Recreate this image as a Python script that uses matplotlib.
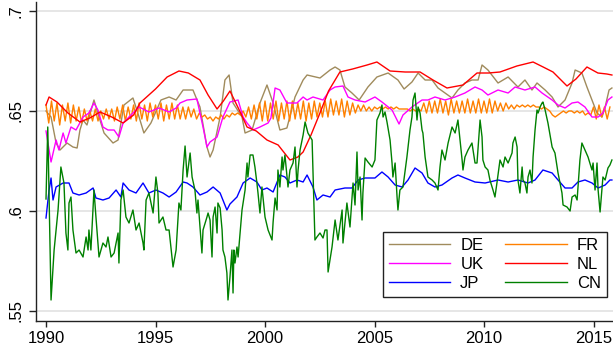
import matplotlib
matplotlib.use("Agg")
import matplotlib.pyplot as plt
import numpy as np

plt.rcParams['font.family'] = ['Liberation Sans', 'DejaVu Sans']

# ---------------- data (fractional years, values) ----------------
de_t = [1990.00, 1990.23, 1990.46, 1990.64, 1990.96, 1991.23, 1991.42, 1991.55, 1991.69, 1991.87,
        1992.19, 1992.42, 1992.65, 1993.06, 1993.29, 1993.56, 1993.97, 1994.25, 1994.47, 1994.79,
        1995.25, 1995.62, 1995.94, 1996.26, 1996.71, 1997.03, 1997.35, 1997.49, 1997.63, 1997.95,
        1998.17, 1998.36, 1998.54, 1998.95, 1999.09, 1999.41, 1999.77, 2000.09, 2000.37, 2000.68,
        2001.00, 2001.37, 2001.74, 2001.92, 2002.51, 2002.97, 2003.20, 2003.42, 2003.65, 2003.97,
        2004.30, 2004.70, 2005.11, 2005.62, 2006.07, 2006.35, 2006.71, 2006.99, 2007.31, 2007.63,
        2007.90, 2008.22, 2008.54, 2008.81, 2009.13, 2009.45, 2009.73, 2009.91, 2010.18, 2010.64,
        2011.10, 2011.55, 2011.87, 2012.19, 2012.42, 2012.79, 2013.11, 2013.38, 2013.70, 2014.02,
        2014.16, 2014.47, 2014.70, 2014.93, 2015.16, 2015.39, 2015.53, 2015.71, 2015.84]
de_v = [.650, .647, .634, .6305, .634, .632, .6315, .6405, .6455, .643,
        .6555, .647, .639, .634, .6355, .653, .6565, .647, .639, .644,
        .6555, .657, .6555, .6605, .6605, .652, .632, .627, .6305, .647,
        .6655, .668, .654, .647, .639, .6405, .654, .663, .654, .6405,
        .6415, .657, .6655, .668, .6665, .6705, .672, .6705, .662, .659,
        .6555, .662, .667, .669, .6655, .661, .6645, .669, .6655, .6655,
        .6615, .659, .6565, .6605, .664, .6655, .6655, .673, .6705, .664,
        .667, .662, .6655, .6605, .664, .6605, .657, .652, .6555, .664,
        .6705, .669, .662, .6555, .649, .647, .652, .6605, .6615]

fr_start = 1990.0
fr_v = [.653, .644, .655, .645, .654, .643, .653, .645,
        .654, .644, .653, .645, .652, .644, .651, .645,
        .650, .645, .651, .645, .650, .646, .651, .646,
        .651, .645, .652, .646, .653, .645, .652, .646,
        .653, .645, .654, .646, .653, .645, .654, .647,
        .653, .646, .654, .645, .653, .646, .654, .646,
        .653, .646, .652, .646, .652, .647, .651, .646,
        .649, .647, .648, .646, .647, .645, .647, .646,
        .648, .646, .648, .647, .649, .648, .649, .648,
        .650, .647, .652, .646, .653, .646, .654, .645,
        .655, .645, .654, .646, .655, .645, .654, .646,
        .655, .645, .655, .646, .654, .646, .655, .645,
        .654, .646, .655, .647, .654, .647, .655, .647,
        .656, .648, .655, .648, .656, .647, .655, .648,
        .654, .649, .653, .650, .653, .650, .652, .650,
        .652, .651, .652, .651, .652, .651, .652, .651,
        .652, .651, .651, .651, .651, .650, .651, .650,
        .651, .650, .654, .649, .655, .649, .655, .649,
        .656, .649, .655, .648, .656, .649, .655, .649,
        .655, .649, .656, .649, .655, .649, .656, .649,
        .655, .649, .656, .649, .655, .650, .654, .650,
        .654, .651, .653, .651, .653, .652, .653, .652,
        .653, .652, .653, .652, .652, .651, .652, .651,
        .650, .648, .647, .648, .649, .650, .649, .650,
        .650, .649, .650, .649, .650, .648, .649, .648,
        .652, .646, .653, .647, .652, .646, .652]
fr_t = fr_start + np.arange(len(fr_v)) / 8.0

uk_t = [1990.00, 1990.23, 1990.46, 1990.59, 1990.78, 1990.91, 1991.14, 1991.37, 1991.69, 1991.96,
        1992.19, 1992.37, 1992.60, 1992.83, 1993.11, 1993.33, 1993.52, 1993.97, 1994.25, 1994.70,
        1995.16, 1995.62, 1995.94, 1996.12, 1996.44, 1996.89, 1997.17, 1997.35, 1997.49, 1997.81,
        1998.08, 1998.40, 1998.77, 1999.00, 1999.18, 1999.45, 1999.77, 2000.14, 2000.27, 2000.46,
        2000.68, 2001.00, 2001.46, 2001.74, 2001.92, 2002.19, 2002.65, 2002.97, 2003.20, 2003.56,
        2003.79, 2004.11, 2004.57, 2005.02, 2005.34, 2005.80, 2006.12, 2006.30, 2006.71, 2007.17,
        2007.44, 2007.76, 2008.22, 2008.68, 2009.13, 2009.59, 2009.91, 2010.18, 2010.64, 2011.10,
        2011.42, 2011.87, 2012.33, 2012.65, 2013.11, 2013.38, 2013.70, 2014.02, 2014.29, 2014.61,
        2014.93, 2015.21, 2015.43, 2015.66, 2015.84]
uk_v = [.640, .6245, .6355, .6305, .639, .634, .642, .6405, .647, .649,
        .654, .6505, .642, .6405, .6405, .637, .644, .649, .652, .6495,
        .6515, .6495, .6515, .654, .6555, .656, .642, .632, .6345, .637,
        .647, .6545, .6555, .647, .644, .6405, .642, .644, .6465, .6615,
        .6605, .654, .654, .657, .6555, .657, .6555, .6605, .662, .6625,
        .657, .6555, .6545, .657, .6545, .6505, .6435, .648, .652, .6555,
        .6555, .657, .6555, .657, .659, .662, .6605, .658, .6605, .659,
        .662, .6605, .662, .659, .6555, .653, .6515, .654, .6545, .652,
        .647, .647, .649, .6555, .657]

nl_t = [1990.00, 1990.14, 1990.50, 1991.00, 1991.55, 1992.00, 1992.47, 1993.00, 1993.52, 1994.00,
        1994.29, 1995.00, 1995.53, 1996.07, 1996.50, 1997.03, 1997.40, 1997.81, 1998.10, 1998.40,
        1998.80, 1999.18, 1999.60, 2000.09, 2000.60, 2001.14, 2001.50, 2001.74, 2002.10, 2002.51,
        2002.90, 2003.42, 2004.00, 2004.66, 2005.11, 2005.71, 2006.40, 2007.08, 2007.67, 2008.31,
        2009.04, 2009.68, 2010.20, 2010.73, 2011.50, 2012.24, 2012.70, 2013.15, 2013.79, 2014.20,
        2014.70, 2015.20, 2015.61, 2015.84]
nl_v = [.653, .657, .6545, .649, .6445, .6465, .6495, .647, .644, .648,
        .654, .661, .667, .670, .669, .6655, .658, .651, .655, .660,
        .651, .642, .640, .6355, .633, .6255, .627, .6295, .638, .649,
        .660, .6695, .671, .673, .6745, .670, .6695, .6695, .6655, .6615,
        .663, .669, .669, .6695, .6725, .6745, .672, .6695, .6625, .666,
        .672, .669, .6685, .668]

jp_t = [1990.00, 1990.14, 1990.23, 1990.32, 1990.46, 1990.78, 1991.05, 1991.23, 1991.51, 1991.83,
        1992.15, 1992.28, 1992.60, 1992.88, 1993.20, 1993.42, 1993.52, 1993.79, 1994.11, 1994.43,
        1994.70, 1995.02, 1995.34, 1995.62, 1995.94, 1996.26, 1996.44, 1996.71, 1997.03, 1997.35,
        1997.63, 1997.95, 1998.26, 1998.40, 1998.72, 1999.00, 1999.32, 1999.63, 1999.86, 2000.09,
        2000.37, 2000.68, 2000.91, 2001.14, 2001.46, 2001.74, 2001.92, 2002.19, 2002.37, 2002.65,
        2002.97, 2003.20, 2003.65, 2003.97, 2004.25, 2004.57, 2005.02, 2005.34, 2005.62, 2005.94,
        2006.26, 2006.53, 2006.85, 2007.17, 2007.44, 2007.76, 2008.08, 2008.54, 2008.81, 2009.13,
        2009.59, 2010.05, 2010.64, 2011.10, 2011.55, 2012.01, 2012.33, 2012.69, 2013.11, 2013.38,
        2013.70, 2014.02, 2014.29, 2014.61, 2014.93, 2015.21, 2015.53, 2015.75, 2015.84]
jp_v = [.5965, .6105, .6165, .6055, .612, .614, .614, .609, .608, .609,
        .6115, .6065, .6055, .6065, .6105, .607, .614, .6105, .609, .614,
        .609, .6105, .609, .607, .6095, .6145, .614, .612, .608, .6095,
        .612, .609, .6005, .6035, .607, .614, .6165, .6145, .6105, .6115,
        .6095, .618, .617, .614, .6155, .6145, .618, .612, .6055, .608,
        .607, .6105, .6115, .6115, .6155, .6165, .6165, .6195, .617, .613,
        .612, .6155, .6215, .619, .614, .612, .613, .6165, .618, .6165,
        .6145, .614, .6155, .6145, .6155, .614, .6155, .6205, .619, .6155,
        .6115, .6115, .6145, .6155, .614, .6115, .613, .6155, .6155]

cn_t = [1990.00, 1990.08, 1990.23, 1990.37, 1990.55, 1990.68, 1990.82, 1990.91, 1991.00, 1991.05,
        1991.14, 1991.23, 1991.37, 1991.51, 1991.69, 1991.83, 1991.92, 1991.96, 1992.05, 1992.19,
        1992.28, 1992.42, 1992.60, 1992.74, 1992.83, 1992.97, 1993.11, 1993.29, 1993.33, 1993.42,
        1993.52, 1993.65, 1993.79, 1993.97, 1994.11, 1994.25, 1994.43, 1994.47, 1994.57, 1994.70,
        1994.89, 1995.02, 1995.11, 1995.16, 1995.34, 1995.48, 1995.62, 1995.80, 1995.94, 1996.03,
        1996.07, 1996.16, 1996.26, 1996.35, 1996.44, 1996.58, 1996.67, 1996.80, 1996.89, 1996.94,
        1997.03, 1997.12, 1997.17, 1997.35, 1997.40, 1997.49, 1997.58, 1997.63, 1997.72, 1997.81,
        1997.85, 1997.95, 1998.04, 1998.08, 1998.17, 1998.26, 1998.31, 1998.40, 1998.49, 1998.54,
        1998.58, 1998.63, 1998.72, 1998.77, 1998.86, 1998.95, 1999.09, 1999.18, 1999.22, 1999.32,
        1999.45, 1999.54, 1999.63, 1999.68, 1999.77, 1999.86, 2000.00, 2000.14, 2000.32, 2000.37,
        2000.46, 2000.55, 2000.59, 2000.68, 2000.78, 2000.82, 2000.91, 2001.05, 2001.14, 2001.28,
        2001.37, 2001.46, 2001.51, 2001.60, 2001.74, 2001.83, 2001.96, 2002.15, 2002.19, 2002.28,
        2002.37, 2002.51, 2002.65, 2002.74, 2002.83, 2002.88, 2003.06, 2003.20, 2003.33, 2003.52,
        2003.56, 2003.74, 2003.88, 2004.02, 2004.11, 2004.20, 2004.25, 2004.34, 2004.43, 2004.47,
        2004.57, 2004.70, 2004.89, 2005.02, 2005.11, 2005.25, 2005.34, 2005.39, 2005.48, 2005.57,
        2005.71, 2005.80, 2005.84, 2005.94, 2006.03, 2006.07, 2006.16, 2006.30, 2006.48, 2006.62,
        2006.71, 2006.76, 2006.85, 2006.94, 2006.99, 2007.08, 2007.17, 2007.21, 2007.31, 2007.44,
        2007.63, 2007.76, 2007.90, 2007.99, 2008.08, 2008.22, 2008.36, 2008.54, 2008.68, 2008.81,
        2009.00, 2009.04, 2009.13, 2009.27, 2009.45, 2009.59, 2009.68, 2009.82, 2009.91, 2009.95,
        2010.05, 2010.18, 2010.27, 2010.41, 2010.50, 2010.59, 2010.73, 2010.87, 2010.96, 2011.10,
        2011.28, 2011.32, 2011.42, 2011.51, 2011.55, 2011.64, 2011.74, 2011.78, 2011.87, 2011.96,
        2012.01, 2012.10, 2012.19, 2012.24, 2012.33, 2012.42, 2012.47, 2012.56, 2012.65, 2012.69,
        2012.79, 2012.92, 2013.11, 2013.24, 2013.38, 2013.56, 2013.61, 2013.79, 2013.93, 2014.02,
        2014.16, 2014.25, 2014.38, 2014.47, 2014.61, 2014.75, 2014.93, 2014.98, 2015.07, 2015.16,
        2015.21, 2015.30, 2015.39, 2015.43, 2015.53, 2015.66, 2015.75, 2015.84]
cn_v = [.606, .642, .5555, .5805, .6005, .622, .614, .589, .5805, .604,
        .607, .5905, .579, .5805, .577, .587, .5805, .5905, .5805, .6105,
        .597, .577, .584, .582, .587, .577, .579, .589, .574, .6055,
        .6105, .597, .594, .6005, .5905, .594, .584, .5805, .6055, .609,
        .599, .617, .609, .594, .597, .5905, .5905, .572, .5805, .597,
        .604, .6005, .6205, .6325, .617, .629, .617, .6105, .599, .6055,
        .592, .579, .5905, .597, .599, .5955, .577, .597, .602, .589,
        .604, .6015, .5905, .5805, .577, .569, .5555, .567, .5805, .559,
        .5805, .574, .582, .577, .589, .6005, .6105, .624, .617, .628,
        .628, .622, .614, .609, .599, .612, .597, .5905, .5855, .5945,
        .6065, .6005, .6205, .612, .627, .6205, .628, .612, .6205, .624,
        .632, .612, .6205, .6305, .638, .6445, .639, .6355, .6205, .5855,
        .587, .589, .5865, .5905, .5905, .5695, .582, .5955, .5855, .6005,
        .584, .604, .592, .614, .603, .6295, .6105, .617, .5955, .609,
        .6265, .6245, .622, .6255, .6455, .649, .653, .647, .6495, .6445,
        .6355, .624, .617, .624, .607, .6005, .6105, .612, .627, .6405,
        .647, .6555, .659, .6455, .652, .649, .6405, .639, .627, .617,
        .6155, .614, .6105, .622, .6305, .6255, .634, .642, .639, .6455,
        .6255, .6205, .627, .6305, .634, .624, .624, .6455, .637, .6255,
        .622, .6205, .6155, .6105, .607, .614, .6255, .622, .627, .624,
        .629, .634, .637, .632, .6155, .609, .622, .6155, .614, .609,
        .617, .6205, .614, .627, .6405, .6505, .649, .652, .654, .6545,
        .6505, .644, .632, .629, .619, .609, .603, .602, .600, .607,
        .608, .6055, .6255, .634, .6305, .627, .6205, .624, .6105, .624,
        .6105, .5995, .612, .617, .6155, .6215, .623, .6255]

names = ['DE', 'FR', 'UK', 'NL', 'JP', 'CN']
colors = ['#a08b5c', '#ff8000', '#ff00ff', '#ff0000', '#0000ff', '#008000']
series = [(de_t, de_v), (fr_t, fr_v), (uk_t, uk_v), (nl_t, nl_v), (jp_t, jp_v), (cn_t, cn_v)]

yticks = [0.55, 0.6, 0.65, 0.7]
ytick_labels = ['.55', '.6', '.65', '.7']
xticks = [1990, 1995, 2000, 2005, 2010, 2015]

# ---------------- figure ----------------
W, H = 613, 356
fig = plt.figure(figsize=(W / 100, H / 100), dpi=100)
ax = fig.add_axes([36 / W, 1 - 321 / H, 1 - 36 / W, (321 - 2) / H])

handles = {}
for name, col, (t, v) in zip(names, colors, series):
    ln, = ax.plot(t, v, color=col, lw=1.0, label=name, zorder=3)
    handles[name] = ln

ax.set_xlim(1989.543, 2015.89)
ax.set_ylim(0.545, 0.7045)

ax.set_yticks(yticks)
ax.set_yticklabels(ytick_labels, rotation=90, va='center')
ax.set_xticks(xticks)
ax.set_xticklabels([str(x) for x in xticks])

ax.grid(axis='y', color='#e2e2e2', lw=1.2, zorder=0)
ax.grid(axis='x', visible=False)
ax.set_axisbelow(True)

for s in ['top', 'right']:
    ax.spines[s].set_visible(False)
for s in ['left', 'bottom']:
    ax.spines[s].set_color('#222222')
    ax.spines[s].set_linewidth(1.0)

ax.tick_params(axis='y', length=5, width=1, color='#222222', labelsize=12, pad=4)
ax.tick_params(axis='x', length=4.5, width=1, color='#222222', labelsize=12, pad=3)

order = ['DE', 'UK', 'JP', 'FR', 'NL', 'CN']
leg = ax.legend([handles[n] for n in order], order, ncol=2, loc='lower left',
                bbox_to_anchor=(0.601, 0.0752), borderaxespad=0, fontsize=12,
                handlelength=3.7, handletextpad=0.6, columnspacing=1.3,
                labelspacing=0.25, borderpad=0.35, fancybox=False, framealpha=1)
leg.get_frame().set_edgecolor('#222222')
leg.get_frame().set_linewidth(1.0)

fig.savefig('out.png', dpi=100)
